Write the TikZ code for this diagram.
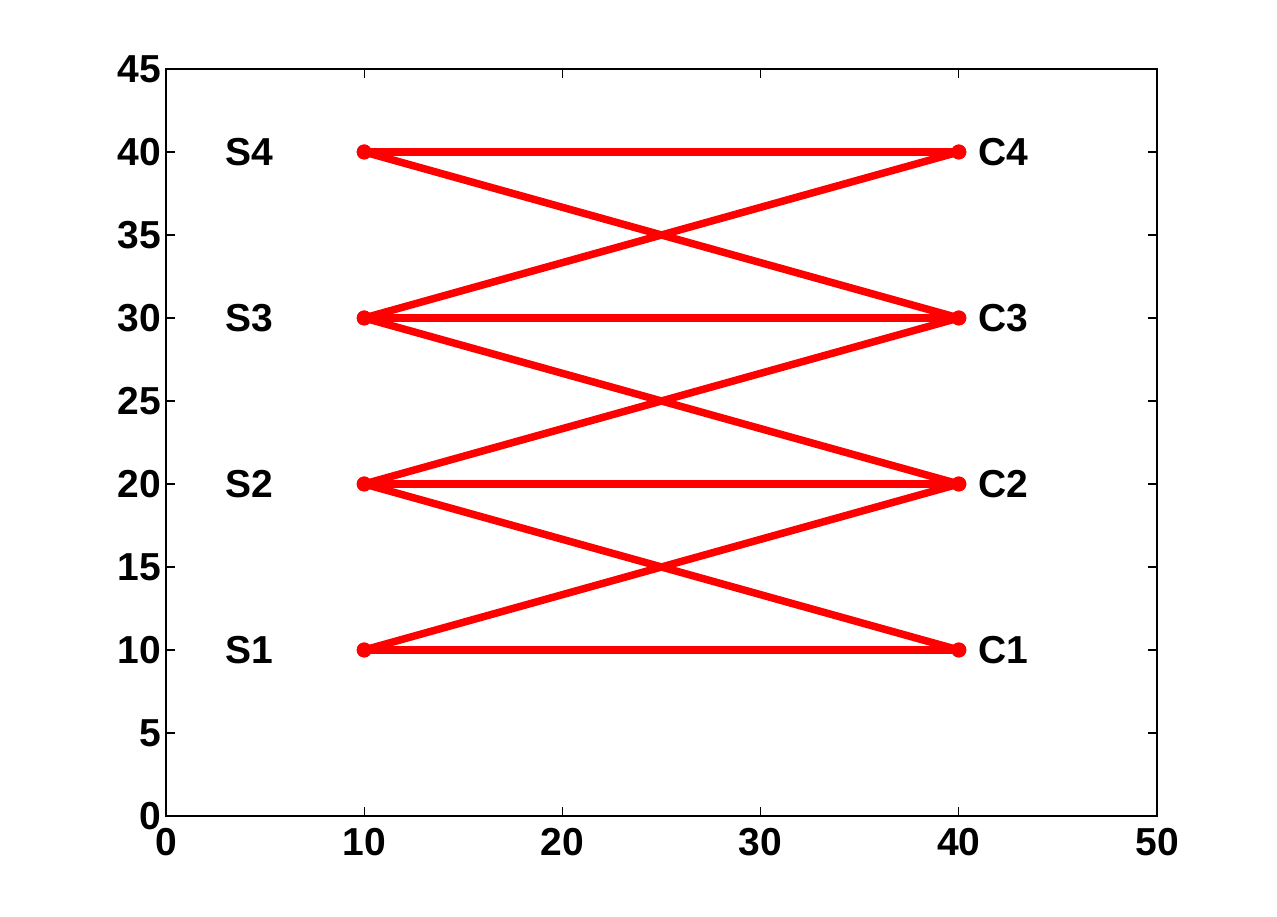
\documentclass[tikz,border=0pt]{standalone}
\usepackage{fontspec}
\setmainfont{Liberation Sans}
\begin{document}
\begin{tikzpicture}[x=1pt,y=1pt,
  lbl/.style={font=\fontsize{39}{39}\selectfont\bfseries, inner sep=0pt},
  dot/.style={circle, fill=red, draw=none, inner sep=0pt, minimum size=15pt},
  edge/.style={red, line width=7.5pt},
  axisline/.style={black, line width=1.1pt}]
\useasboundingbox (0,0) rectangle (1277,917);
\begin{scope}[shift={(166,101)}, x=19.82pt, y=16.6pt]
  \draw[axisline] (0,0) rectangle (50,45);
  \foreach \t in {0,10,...,50} {
    \draw[axisline] (\t,0) -- ++(0,9pt);
    \draw[axisline] (\t,45) -- ++(0,-9pt);
    \node[lbl, yshift=-26pt] (xl\t) at (\t,0) {\t};
  }
  \foreach \t in {0,5,...,45} {
    \draw[axisline] (0,\t) -- ++(9pt,0);
    \draw[axisline] (50,\t) -- ++(-9pt,0);
    \node[lbl, anchor=east, xshift=-5pt] (yl\t) at (0,\t) {\t};
  }
  \foreach \i/\y in {1/10,2/20,3/30,4/40} {
    \node[dot] (S\i) at (10,\y) {};
    \node[dot] (C\i) at (40,\y) {};
    \node[lbl, anchor=west] (LS\i) at (3,\y) {S\i};
    \node[lbl, anchor=west] (LC\i) at (41,\y) {C\i};
  }
  \foreach \a/\b in {4/4,4/3,3/4,3/3,3/2,2/3,2/2,2/1,1/2,1/1} {
    \draw[edge] (S\a.center) -- (C\b.center);
  }
  \foreach \i in {1,2,3,4} {
    \fill[red] (S\i) circle (7.5pt);
    \fill[red] (C\i) circle (7.5pt);
  }
\end{scope}
\end{tikzpicture}
\end{document}
